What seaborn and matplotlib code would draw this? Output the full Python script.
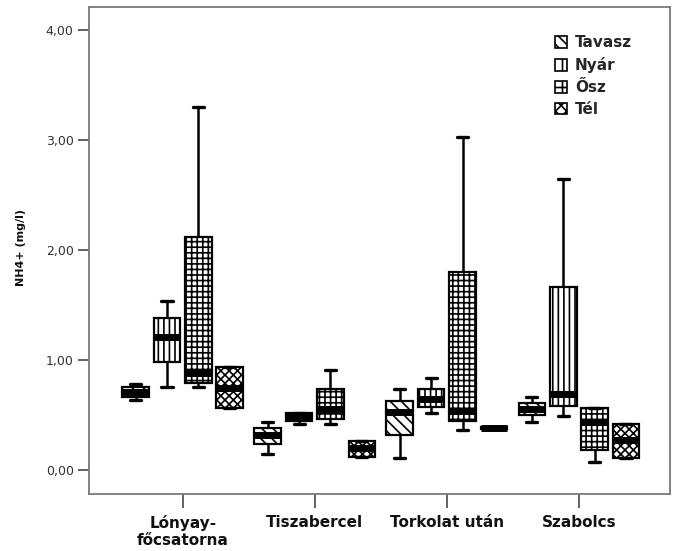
import numpy as np
import pandas as pd
import matplotlib
matplotlib.use("Agg")
import matplotlib.pyplot as plt
from matplotlib.patches import Patch
from matplotlib.ticker import FuncFormatter
import seaborn as sns

sites = ["Lónyay-\nfőcsatorna", "Tiszabercel", "Torkolat után", "Szabolcs"]
seasons = ["Tavasz", "Nyár", "Ősz", "Tél"]
hatches = ["\\\\\\", "|||", "+++", "xxxx"]
y_ticks = [0, 1, 2, 3, 4]

# five-number summaries (min, Q1, median, Q3, max) in mg/l, one row per site
tavasz = [[0.64, 0.66, 0.71, 0.755, 0.78],
          [0.145, 0.236, 0.32, 0.38, 0.44],
          [0.11, 0.32, 0.53, 0.63, 0.74],
          [0.44, 0.50, 0.555, 0.61, 0.66]]
nyar = [[0.755, 0.98, 1.21, 1.38, 1.54],
        [0.42, 0.445, 0.48, 0.52, 0.52],
        [0.52, 0.57, 0.645, 0.74, 0.84],
        [0.49, 0.58, 0.69, 1.66, 2.65]]
osz = [[0.755, 0.79, 0.88, 2.12, 3.30],
       [0.42, 0.46, 0.555, 0.74, 0.91],
       [0.36, 0.445, 0.54, 1.80, 3.03],
       [0.07, 0.18, 0.44, 0.56, 0.56]]
tel = [[0.56, 0.56, 0.745, 0.935, 0.935],
       [0.12, 0.12, 0.20, 0.26, 0.26],
       [0.37, 0.37, 0.38, 0.39, 0.39],
       [0.11, 0.11, 0.27, 0.42, 0.42]]

rows = []
for season, table in zip(seasons, [tavasz, nyar, osz, tel]):
    for site, summary in zip(sites, table):
        for v in summary:
            rows.append({"site": site, "season": season, "value": v})
df = pd.DataFrame(rows)

sns.set_theme(style="white")
plt.rcParams["font.family"] = ["DejaVu Sans"]
plt.rcParams["hatch.linewidth"] = 1.2

fig = plt.figure(figsize=(6.73, 5.51), dpi=100)
ax = fig.add_axes([89 / 673, 1 - 494 / 551, 581 / 673, 487 / 551])

for season, hatch in zip(seasons, hatches):
    n0 = len(ax.patches)
    sns.boxplot(data=df[df["season"] == season], x="site", y="value",
                hue="season", order=sites, hue_order=seasons,
                palette={s: "white" for s in seasons}, linecolor="black",
                width=0.95, gap=0.15, whis=(0, 100), dodge=True,
                legend=False, ax=ax, linewidth=1.6, capwidths=0.085,
                medianprops=dict(linewidth=5, color="black",
                                 solid_capstyle="butt"),
                whiskerprops=dict(linewidth=1.8),
                capprops=dict(linewidth=2.4),
                boxprops=dict(linewidth=1.6))
    for p in ax.patches[n0:]:
        p.set_hatch(hatch)

ax.set_xlim(-0.71, 3.69)
ax.set_ylim(-0.218, 4.21)
ax.set_yticks(y_ticks)
ax.yaxis.set_major_formatter(FuncFormatter(lambda v, _: f"{v:.2f}".replace(".", ",")))

for side in ["left", "right", "top", "bottom"]:
    ax.spines[side].set_visible(True)
    ax.spines[side].set_color("#7a7a7a")
    ax.spines[side].set_linewidth(1.3)

ax.tick_params(axis="y", left=True, length=8, width=1.3, color="#555555",
               labelsize=9, labelcolor="#333333", pad=3)
ax.tick_params(axis="x", bottom=True, length=10, width=1.3, color="#555555",
               labelsize=11, labelcolor="#111111", pad=5)
for lbl in ax.get_xticklabels():
    lbl.set_fontweight("bold")

ax.set_xlabel("")
ax.set_ylabel("NH4+ (mg/l)", fontweight="bold", fontsize=8, color="#111111")
ax.yaxis.set_label_coords(-0.108, 0.507)

handles = [Patch(facecolor="white", edgecolor="black", hatch=h, linewidth=1.2)
           for h in ["\\\\\\", "||", "++", "xxx"]]
ax.legend(handles, seasons, loc="upper left", bbox_to_anchor=(0.802, 0.942),
          frameon=False, prop=dict(weight="bold", size=11),
          handlelength=0.8, handleheight=0.8, handletextpad=0.5,
          labelspacing=0.45, borderaxespad=0, borderpad=0)

fig.savefig("out.png", dpi=100)
